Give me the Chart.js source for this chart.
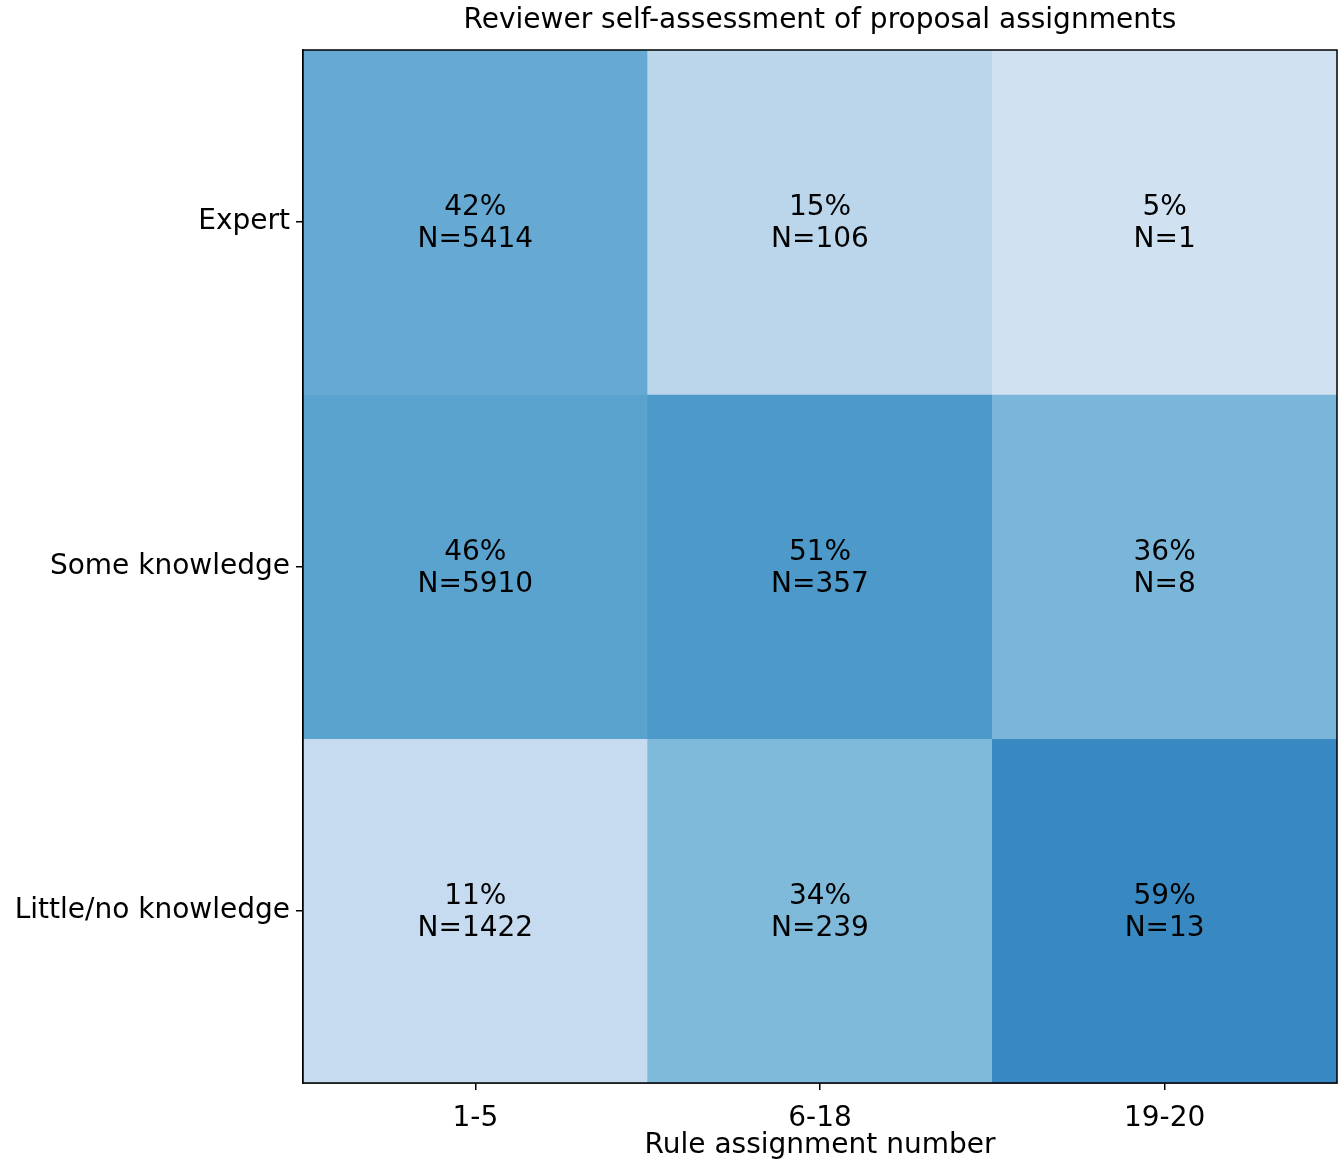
<!DOCTYPE html>
<html>
<head>
<meta charset="utf-8">
<script src="https://cdn.jsdelivr.net/npm/chart.js@4.4.0/dist/chart.umd.min.js"></script>
<style>
  body { margin: 0; background: #fff; }
  #wrap { width: 1339px; height: 1160px; }
</style>
</head>
<body>
<div id="wrap"><canvas id="heatmap" width="1339" height="1160"></canvas></div>
<script>
// data
const assignmentGroups = ['1-5', '6-18', '19-20'];
const knowledgeLevels = ['Expert', 'Some knowledge', 'Little/no knowledge'];
const expertPct = [42, 15, 5];
const somePct = [46, 51, 36];
const littlePct = [11, 34, 59];
const expertN = [5414, 106, 1];
const someN = [5910, 357, 8];
const littleN = [1422, 239, 13];

const pctRows = [expertPct, somePct, littlePct];
const countRows = [expertN, someN, littleN];

// matplotlib "Blues" stops
const blues = [
  [247, 251, 255], [222, 235, 247], [198, 219, 239], [158, 202, 225],
  [107, 174, 214], [66, 146, 198], [33, 113, 181], [8, 81, 156], [8, 48, 107]
];

function bluesColor(pct) {
  let t = 0.155 + 0.861 * (pct / 100);
  t = Math.max(0, Math.min(1, t));
  const pos = t * (blues.length - 1);
  const i = Math.min(Math.floor(pos), blues.length - 2);
  const f = pos - i;
  const c = blues[i].map((v, k) => Math.round(v + (blues[i + 1][k] - v) * f));
  return 'rgb(' + c.join(',') + ')';
}

const fontFamily = '"DejaVu Sans", sans-serif';
const fontSize = 28;
const nRows = knowledgeLevels.length;
const chartTitle = 'Reviewer self-assessment of proposal assignments';

const datasets = knowledgeLevels.map((level, r) => {
  const top = nRows - r;
  return {
    label: level,
    data: assignmentGroups.map(() => [top - 1, top]),
    backgroundColor: pctRows[r].map(p => bluesColor(p)),
    borderWidth: 0,
    barPercentage: 1,
    categoryPercentage: 1,
    row: r
  };
});

const cellText = {
  id: 'cellText',
  afterDatasetsDraw(chart) {
    const ctx = chart.ctx;
    ctx.save();
    ctx.fillStyle = '#000';
    ctx.font = fontSize + 'px ' + fontFamily;
    ctx.textAlign = 'center';
    ctx.textBaseline = 'middle';
    chart.data.datasets.forEach((ds, d) => {
      const meta = chart.getDatasetMeta(d);
      meta.data.forEach((el, c) => {
        const cy = (el.y + el.base) / 2 + 2;
        ctx.fillText(pctRows[ds.row][c] + '%', el.x, cy - 16);
        ctx.fillText('N=' + countRows[ds.row][c], el.x, cy + 16);
      });
    });
    ctx.restore();
  }
};

// frame around the plot plus the title centred over the plot area
const frame = {
  id: 'frame',
  afterDraw(chart) {
    const a = chart.chartArea;
    const ctx = chart.ctx;
    ctx.save();
    ctx.strokeStyle = '#000';
    ctx.lineWidth = 1.5;
    ctx.strokeRect(a.left, a.top, a.right - a.left, a.bottom - a.top);
    ctx.fillStyle = '#000';
    ctx.font = fontSize + 'px ' + fontFamily;
    ctx.textAlign = 'center';
    ctx.textBaseline = 'middle';
    ctx.fillText(chartTitle, (a.left + a.right) / 2, 21);
    ctx.restore();
  }
};

new Chart(document.getElementById('heatmap'), {
  type: 'bar',
  data: { labels: assignmentGroups, datasets: datasets },
  options: {
    responsive: false,
    animation: false,
    layout: { padding: { left: 0, right: 2, top: 50, bottom: 0 } },
    plugins: {
      legend: { display: false },
      tooltip: { enabled: false },
      title: { display: false }
    },
    scales: {
      x: {
        stacked: true,
        offset: true,
        afterFit(axis) { axis.height = 77; },
        grid: { offset: false, drawOnChartArea: false, drawTicks: true, tickLength: 7, color: '#000', lineWidth: 1.5 },
        border: { display: true, color: '#000', width: 1.5 },
        ticks: { color: '#000', padding: 12, font: { family: fontFamily, size: fontSize } },
        title: {
          display: true,
          text: 'Rule assignment number',
          color: '#000',
          font: { family: fontFamily, size: fontSize },
          padding: { top: 0, bottom: -3 }
        }
      },
      y: {
        min: 0,
        max: 3,
        afterBuildTicks(axis) {
          axis.ticks = [{ value: 0.5 }, { value: 1.5 }, { value: 2.5 }];
        },
        afterFit(axis) { axis.width = 303; },
        grid: { drawOnChartArea: false, drawTicks: true, tickLength: 7, color: '#000', lineWidth: 1.5 },
        border: { display: true, color: '#000', width: 1.5 },
        ticks: {
          color: '#000',
          padding: 6,
          font: { family: fontFamily, size: fontSize },
          callback(value, index) { return knowledgeLevels[nRows - 1 - index]; }
        }
      }
    }
  },
  plugins: [cellText, frame]
});
</script>
</body>
</html>
